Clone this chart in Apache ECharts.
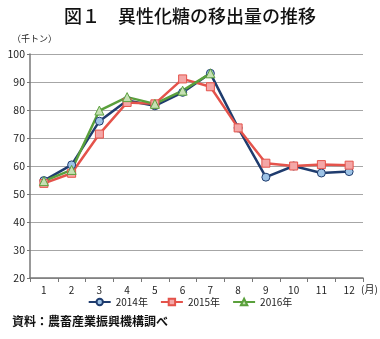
<!DOCTYPE html>
<html>
<head>
<meta charset="utf-8">
<script src="https://cdn.jsdelivr.net/npm/echarts@6/dist/echarts.min.js"></script>
<style>
  html, body { margin: 0; padding: 0; background: #fff; }
  #chart { width: 380px; height: 339px; }
</style>
</head>
<body>
<div id="chart"></div>
<script>
// Monthly shipments of high-fructose corn syrup (thousand tonnes)
const months = ['1', '2', '3', '4', '5', '6', '7', '8', '9', '10', '11', '12'];
const yearNames = ['2014年', '2015年', '2016年'];
const ship2014 = [54.8, 60.4, 76.0, 83.4, 81.5, 86.3, 93.1, 73.6, 56.0, 60.0, 57.5, 58.0];
const ship2015 = [53.8, 57.4, 71.4, 82.7, 82.2, 91.1, 88.3, 73.6, 61.0, 60.0, 60.5, 60.3];
const ship2016 = [54.6, 58.6, 79.8, 84.6, 82.2, 86.9, 93.1];
const yTicks = { min: 20, max: 100, step: 10 };

const FONT = '"Noto Sans CJK JP", sans-serif';
const chart = echarts.init(document.getElementById('chart'), null, { renderer: 'canvas' });

function lineSeries(name, data, lineColor, fill, border, symbol, size) {
  return {
    name: name,
    type: 'line',
    data: data,
    symbol: symbol,
    symbolSize: size,
    lineStyle: { color: lineColor, width: 2.5 },
    itemStyle: { color: fill, borderColor: border, borderWidth: 1 },
    emphasis: { disabled: true }
  };
}

chart.setOption({
  animation: false,
  backgroundColor: '#fff',
  title: {
    text: '図１　異性化糖の移出量の推移',
    left: 'center',
    top: 2,
    textStyle: { fontFamily: FONT, fontSize: 18, fontWeight: 500, color: '#111' }
  },
  grid: { left: 30, right: 17, top: 54, bottom: 61 },
  legend: {
    bottom: 27,
    left: 'center',
    itemWidth: 22,
    itemHeight: 8,
    itemGap: 12,
    textStyle: { fontFamily: FONT, fontSize: 10, color: '#222' },
    data: yearNames
  },
  graphic: [
    { type: 'text', left: 12, top: 34, style: { text: '（千トン）', font: '9px ' + FONT, fill: '#222' } },
    { type: 'text', left: 361, top: 284, style: { text: '(月)', font: '10px ' + FONT, fill: '#222' } },
    { type: 'text', left: 12, top: 315, style: { text: '資料：農畜産業振興機構調べ', font: 'bold 12px ' + FONT, fill: '#111' } }
  ],
  xAxis: {
    type: 'category',
    data: months,
    boundaryGap: true,
    axisLine: { lineStyle: { color: '#777', width: 1.5 } },
    axisTick: { show: true, length: 4, lineStyle: { color: '#777' } },
    axisLabel: { fontFamily: FONT, fontSize: 10, color: '#222', margin: 7 }
  },
  yAxis: {
    type: 'value',
    min: yTicks.min,
    max: yTicks.max,
    interval: yTicks.step,
    axisLine: { show: true, lineStyle: { color: '#777', width: 1.5 } },
    axisTick: { show: true, length: 3, lineStyle: { color: '#777' } },
    axisLabel: { fontFamily: FONT, fontSize: 10.5, color: '#222', margin: 5 },
    splitLine: { lineStyle: { color: '#a6a6a6', width: 1.2 } }
  },
  series: [
    lineSeries(yearNames[0], ship2014, '#1f3c6e', '#9dc3e6', '#1f3c6e', 'circle', 8),
    lineSeries(yearNames[1], ship2015, '#e4534b', '#f4a7a7', '#e4534b', 'rect', 8),
    lineSeries(yearNames[2], ship2016, '#5aa03c', '#c6e0b4', '#5aa03c', 'triangle', 9)
  ]
});
</script>
</body>
</html>
